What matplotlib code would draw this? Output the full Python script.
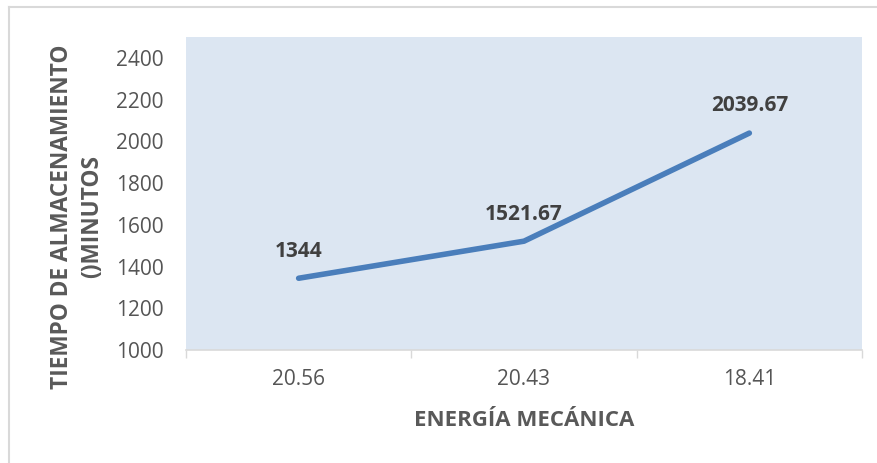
import matplotlib
matplotlib.use('Agg')
import matplotlib.pyplot as plt
from matplotlib.lines import Line2D

categories = ['20.56', '20.43', '18.41']
tiempo = [1344, 1521.67, 2039.67]
etiquetas = ['1344', '1521.67', '2039.67']
y_ticks = [1000, 1200, 1400, 1600, 1800, 2000, 2200, 2400]

plt.rcParams['font.family'] = ['Open Sans', 'DejaVu Sans']

fig = plt.figure(figsize=(8.78, 4.63), dpi=100)
ax = fig.add_axes([0.2118, 0.244, 0.77, 0.676])
ax.set_facecolor('#DCE6F2')

x = list(range(len(categories)))
ax.plot(x, tiempo, color='#4A7EBB', linewidth=4, solid_capstyle='round')

for xi, yi, txt in zip(x, tiempo, etiquetas):
    ax.annotate(txt, (xi, yi), xytext=(0, 12), textcoords='offset points',
                ha='center', va='bottom', fontsize=15, fontweight='bold', color='#404040')

ax.set_xlim(-0.5, len(categories) - 0.5)
ax.set_ylim(1000, 2500)
ax.set_xticks(x)
ax.set_xticklabels(categories)
ax.set_xticks([i - 0.5 for i in range(len(categories) + 1)], minor=True)
ax.set_yticks(y_ticks)

ax.tick_params(axis='x', which='major', length=0, pad=14, labelsize=15, labelcolor='#555555')
ax.tick_params(axis='x', which='minor', length=6, color='#D9D9D9', width=1)
ax.tick_params(axis='y', length=0, pad=16, labelsize=15, labelcolor='#555555')

for side in ['top', 'right', 'left']:
    ax.spines[side].set_visible(False)
ax.spines['bottom'].set_color('#D9D9D9')
ax.spines['bottom'].set_linewidth(1.2)

# títulos de los ejes
fig.text(524, 463 - 420, 'ENERGÍA MECÁNICA', transform=None, ha='center', va='center',
         fontsize=16, fontweight='bold', color='#595959')
fig.text(62, 463 - 217, 'TIEMPO DE ALMACENAMIENTO', transform=None,
         rotation=90, ha='center', va='center', fontsize=16.3,
         fontweight='bold', color='#595959')
fig.text(92, 463 - 217, '()MINUTOS', transform=None,
         rotation=90, ha='center', va='center', fontsize=16.3,
         fontweight='bold', color='#595959')

# marco gris del área del gráfico
fig.add_artist(Line2D([9 / 878, 9 / 878], [0, 1 - 7 / 463], color='#D9D9D9', linewidth=1.5))
fig.add_artist(Line2D([9 / 878, 1], [1 - 7 / 463, 1 - 7 / 463], color='#D9D9D9', linewidth=1.5))

plt.savefig('out.png', dpi=100)
